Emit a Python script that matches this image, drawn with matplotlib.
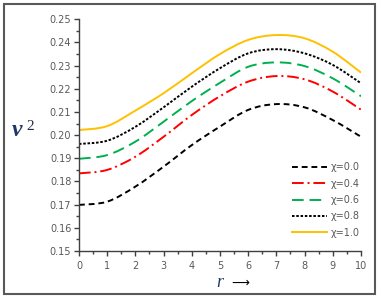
import numpy as np
import matplotlib
matplotlib.use("Agg")
import matplotlib.pyplot as plt
from matplotlib.ticker import MultipleLocator
from matplotlib.patches import Rectangle, PathPatch
from matplotlib.path import Path
from matplotlib.lines import Line2D

r = [0, 1, 2, 3, 4, 5, 6, 7, 8, 9, 10]
chi_labels = ["χ=0.0", "χ=0.4", "χ=0.6", "χ=0.8", "χ=1.0"]
v2_chi00 = [0.1699, 0.1713, 0.1778, 0.1864, 0.1957, 0.2037, 0.2109, 0.2134, 0.2120, 0.2065, 0.1993]
v2_chi04 = [0.1835, 0.1850, 0.1907, 0.1993, 0.2087, 0.2168, 0.2231, 0.2255, 0.2241, 0.2188, 0.2110]
v2_chi06 = [0.1898, 0.1914, 0.1972, 0.2058, 0.2147, 0.2226, 0.2295, 0.2314, 0.2298, 0.2245, 0.2168]
v2_chi08 = [0.1962, 0.1976, 0.2036, 0.2120, 0.2209, 0.2289, 0.2353, 0.2371, 0.2353, 0.2303, 0.2224]
v2_chi10 = [0.2022, 0.2039, 0.2106, 0.2181, 0.2267, 0.2350, 0.2411, 0.2432, 0.2418, 0.2360, 0.2270]

series = [v2_chi00, v2_chi04, v2_chi06, v2_chi08, v2_chi10]
colors = ["black", "#FF0000", "#00B050", "black", "#FFC000"]
styles = [(0, (3, 2)), (0, (6, 2, 1, 2)), (0, (6, 3)), (0, (1.3, 0.9)), "solid"]


def smooth_path(xs, ys):
    # excel-like smoothed line (catmull-rom as cubic bezier)
    x = np.asarray(xs, float)
    y = np.asarray(ys, float)
    verts = [(x[0], y[0])]
    codes = [Path.MOVETO]
    n = len(x)
    for i in range(n - 1):
        x0, y0 = (x[i - 1], y[i - 1]) if i > 0 else (x[i], y[i])
        x3, y3 = (x[i + 2], y[i + 2]) if i + 2 < n else (x[i + 1], y[i + 1])
        c1 = (x[i] + (x[i + 1] - x0) / 6, y[i] + (y[i + 1] - y0) / 6)
        c2 = (x[i + 1] - (x3 - x[i]) / 6, y[i + 1] - (y3 - y[i]) / 6)
        verts += [c1, c2, (x[i + 1], y[i + 1])]
        codes += [Path.CURVE4] * 3
    return Path(verts, codes)


fig = plt.figure(figsize=(3.81, 3.01), dpi=100)
ax = fig.add_axes([0.2073, 0.1661, 0.7402, 0.7698])

handles = []
for ys, c, ls, lab in zip(series, colors, styles, chi_labels):
    ax.add_patch(PathPatch(smooth_path(r, ys), fill=False, edgecolor=c,
                           lw=1.4, linestyle=ls, capstyle="butt"))
    handles.append(Line2D([], [], color=c, lw=1.4, linestyle=ls, label=lab))

ax.set_xlim(0, 10)
ax.set_ylim(0.15, 0.25)
ax.xaxis.set_major_locator(MultipleLocator(1))
ax.xaxis.set_minor_locator(MultipleLocator(0.5))
ax.yaxis.set_major_locator(MultipleLocator(0.01))
ax.yaxis.set_minor_locator(MultipleLocator(0.005))
ax.yaxis.set_major_formatter(plt.FuncFormatter(lambda v, p: f"{v:.2f}"))
for s in ["top", "right"]:
    ax.spines[s].set_visible(False)
for s in ["left", "bottom"]:
    ax.spines[s].set_color("#404040")
    ax.spines[s].set_linewidth(1.0)
ax.tick_params(which="major", length=3.5, width=1, color="#404040",
               labelsize=7, labelcolor="#595959", pad=2)
ax.tick_params(which="minor", length=2.5, width=1, color="#404040")
ax.tick_params(axis="x", pad=4)

# axis titles
fig.text(12 / 381, 1 - 136 / 301, "v", fontsize=17, color="#1F3864",
         family="Liberation Serif", style="italic", weight="bold",
         ha="left", va="baseline")
fig.text(26 / 381, 1 - 130 / 301, "2", fontsize=11, color="#1F2A44",
         family="Liberation Serif", ha="left", va="baseline")
fig.text(216 / 381, 1 - 287 / 301, "r", fontsize=13, color="#1F3864",
         family="Liberation Serif", style="italic", ha="left", va="baseline")
fig.text(231 / 381, 1 - 283 / 301, "⟶", fontsize=9, color="black",
         ha="left", va="center")

leg = ax.legend(handles=handles, loc="lower right", bbox_to_anchor=(1.01, 0.04),
                frameon=False, fontsize=7, handlelength=3.6, handletextpad=0.4,
                labelspacing=0.66, borderaxespad=0)
for t in leg.get_texts():
    t.set_color("#595959")

fig.patches.append(Rectangle((4 / 381, 7 / 301), 371 / 381, 290 / 301,
                             transform=fig.transFigure, fill=False,
                             edgecolor="#595959", lw=1.5))

fig.savefig("out.png", dpi=100)
